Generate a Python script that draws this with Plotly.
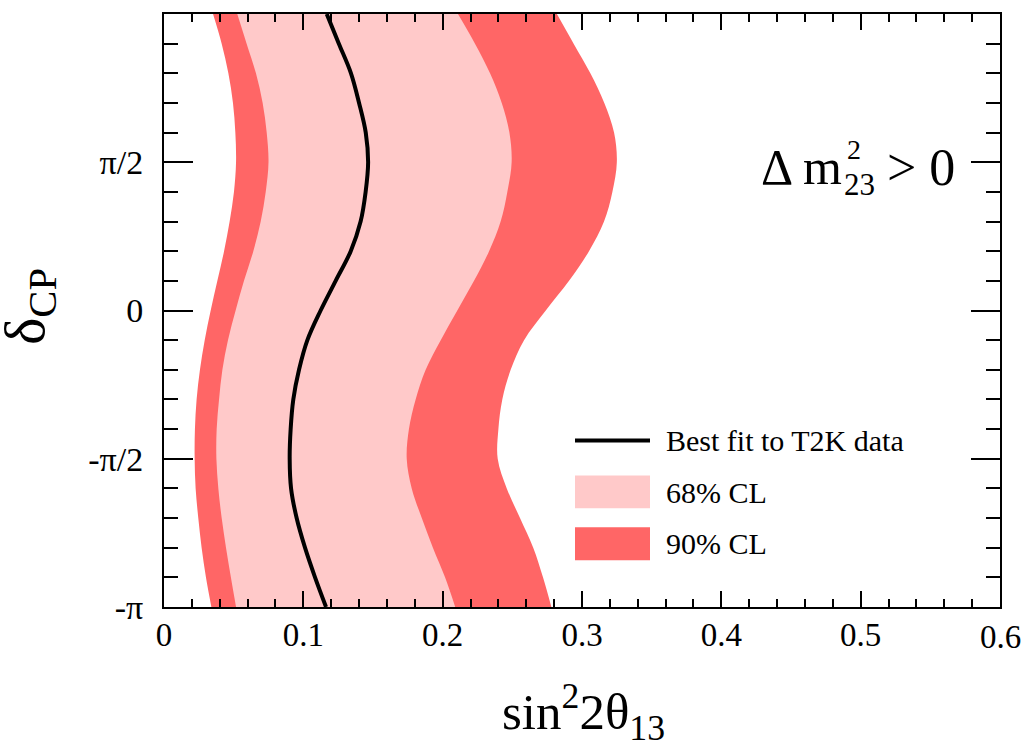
import numpy as np
import plotly.graph_objects as go

PI = np.pi
# delta_CP sample points, in units of pi (-1 .. 1 step 0.1)
delta_over_pi = [-1.0, -0.9, -0.8, -0.7, -0.6, -0.5, -0.4, -0.3, -0.2, -0.1, 0.0,
                 0.1, 0.2, 0.3, 0.4, 0.5, 0.6, 0.7, 0.8, 0.9, 1.0]

cl90_left = [0.034, 0.0301, 0.027, 0.0246, 0.0227, 0.022, 0.0222, 0.0234, 0.0258, 0.0292, 0.0335,
             0.0383, 0.0431, 0.0471, 0.0502, 0.0517, 0.0512, 0.0495, 0.0462, 0.0414, 0.0352]
cl68_left = [0.0517, 0.048, 0.0445, 0.0414, 0.039, 0.0376, 0.0378, 0.0395, 0.0419, 0.0459, 0.0514,
             0.0574, 0.0641, 0.0694, 0.073, 0.075, 0.0737, 0.0708, 0.066, 0.0593, 0.0526]
best_fit = [0.1163, 0.1084, 0.1012, 0.0952, 0.0912, 0.0902, 0.0909, 0.0928, 0.0969, 0.1029, 0.1124,
            0.1232, 0.134, 0.1411, 0.1447, 0.1465, 0.1448, 0.1400, 0.1342, 0.1255, 0.1168]
cl68_right = [0.209, 0.2017, 0.193, 0.185, 0.1778, 0.1742, 0.1758, 0.1806, 0.1878, 0.1986, 0.2105,
              0.2225, 0.2333, 0.2416, 0.2464, 0.2495, 0.2479, 0.2424, 0.234, 0.2232, 0.211]
cl90_right = [0.278, 0.272, 0.265, 0.2555, 0.246, 0.2395, 0.240, 0.2428, 0.2488, 0.2584, 0.274,
              0.2907, 0.305, 0.3158, 0.3218, 0.325, 0.323, 0.316, 0.306, 0.294, 0.282]

y_tick_over_pi = [-1, -0.5, 0, 0.5, 1]
y_tick_text = ["-π", "-π/2", "0", "π/2", "π"]
x_tick_vals = [0, 0.1, 0.2, 0.3, 0.4, 0.5, 0.6]
x_tick_text = ["0", "0.1", "0.2", "0.3", "0.4", "0.5", "0.6"]

legend_labels = ["Best fit to T2K data", "68% CL", "90% CL"]

RED = "#ff6666"
PINK = "#ffc9c9"
FONT = "Liberation Serif"

delta = [d * PI for d in delta_over_pi]

fig = go.Figure()
fig.add_trace(go.Scatter(x=cl90_left, y=delta, mode="lines", line=dict(width=0, shape="spline"),
                         hoverinfo="skip", showlegend=False))
fig.add_trace(go.Scatter(x=cl90_right, y=delta, mode="lines", line=dict(width=0, shape="spline"),
                         fill="tonextx", fillcolor=RED, name="90% CL", showlegend=False))
fig.add_trace(go.Scatter(x=cl68_left, y=delta, mode="lines", line=dict(width=0, shape="spline"),
                         hoverinfo="skip", showlegend=False))
fig.add_trace(go.Scatter(x=cl68_right, y=delta, mode="lines", line=dict(width=0, shape="spline"),
                         fill="tonextx", fillcolor=PINK, name="68% CL", showlegend=False))
fig.add_trace(go.Scatter(x=best_fit, y=delta, mode="lines", line=dict(width=4, color="black", shape="spline"),
                         name="Best fit to T2K data", showlegend=False))

# plot frame as seen in the picture: x 164..1000, y 12..607
FX0, FX1, FY0, FY1 = 164, 1000, 12, 607
L, R, T, B = 164, 24, 12, 139


def px(xp):
    return (xp - FX0) / (FX1 - FX0)


def py(yp):
    return (FY1 - yp) / (FY1 - FY0)


shapes = [
    dict(type="line", xref="paper", yref="paper", x0=px(575), x1=px(650), y0=py(440), y1=py(440),
         line=dict(color="black", width=4)),
    dict(type="rect", xref="paper", yref="paper", x0=px(575), x1=px(650), y0=py(508), y1=py(475),
         fillcolor=PINK, line=dict(width=0)),
    dict(type="rect", xref="paper", yref="paper", x0=px(575), x1=px(650), y0=py(560), y1=py(527),
         fillcolor=RED, line=dict(width=0)),
]

annotations = []
for label, yc in zip(legend_labels, [440, 492, 543]):
    annotations.append(dict(text=label, xref="paper", yref="paper", x=px(664), y=py(yc),
                            xanchor="left", yanchor="middle", showarrow=False,
                            font=dict(family=FONT, size=30, color="black")))

# last x tick label drawn as an annotation at its tick value (keeps it inside the page)
annotations.append(dict(text=x_tick_text[-1], xref="x", yref="paper", x=x_tick_vals[-1], y=py(637),
                        xanchor="center", yanchor="middle", showarrow=False, borderpad=0,
                        font=dict(family=FONT, size=33, color="black")))

# Delta m^2_23 > 0 label (stacked super/subscript)
annotations += [
    dict(text="Δ m", xref="paper", yref="paper", x=px(844), y=py(166), xanchor="right", yanchor="middle",
         showarrow=False, font=dict(family=FONT, size=50, color="black")),
    dict(text="2", xref="paper", yref="paper", x=px(845), y=py(148), xanchor="left", yanchor="middle",
         showarrow=False, font=dict(family=FONT, size=28, color="black")),
    dict(text="23", xref="paper", yref="paper", x=px(842), y=py(183), xanchor="left", yanchor="middle",
         showarrow=False, font=dict(family=FONT, size=31, color="black")),
    dict(text="> 0", xref="paper", yref="paper", x=px(885), y=py(166), xanchor="left", yanchor="middle",
         showarrow=False, font=dict(family=FONT, size=52, color="black")),
]

# axis titles
annotations += [
    dict(text="sin<sup>2</sup>2θ<sub>13</sub>", xref="paper", yref="paper", x=px(583), y=py(712),
         xanchor="center", yanchor="middle", showarrow=False,
         font=dict(family=FONT, size=51, color="black")),
    dict(text="δ<sub>CP</sub>", xref="paper", yref="paper", x=px(28), y=py(306), textangle=-90,
         xanchor="center", yanchor="middle", showarrow=False,
         font=dict(family=FONT, size=58, color="black")),
]

fig.update_layout(
    width=1024, height=746,
    margin=dict(l=L, r=R, t=T, b=B),
    paper_bgcolor="white", plot_bgcolor="white",
    font=dict(family=FONT, color="black"),
    shapes=shapes, annotations=annotations,
    showlegend=False,
)

fig.update_xaxes(
    range=[0, 0.6], tickmode="array", tickvals=x_tick_vals, ticktext=x_tick_text[:-1] + [""],
    ticks="inside", ticklen=16, tickwidth=2, tickcolor="black",
    minor=dict(dtick=0.02, ticks="inside", ticklen=8, tickwidth=2, tickcolor="black"),
    showline=True, linewidth=2, linecolor="black", mirror="allticks",
    showgrid=False, zeroline=False,
    tickfont=dict(family=FONT, size=33, color="black"), ticklabelstandoff=-3,
)
fig.update_yaxes(
    range=[-PI, PI], tickmode="array", tickvals=[v * PI for v in y_tick_over_pi], ticktext=y_tick_text,
    ticks="inside", ticklen=29, tickwidth=2, tickcolor="black",
    minor=dict(tick0=-PI, dtick=PI / 10, ticks="inside", ticklen=14, tickwidth=2, tickcolor="black"),
    showline=True, linewidth=2, linecolor="black", mirror="allticks",
    showgrid=False, zeroline=False,
    tickfont=dict(family=FONT, size=34, color="black"), ticklabelstandoff=12,
)

fig.write_html(
    "out.html",
    config={"displayModeBar": False},
    post_script="document.documentElement.style.margin='0px';document.body.style.margin='0px';"
                "document.body.style.overflow='hidden';",
)
